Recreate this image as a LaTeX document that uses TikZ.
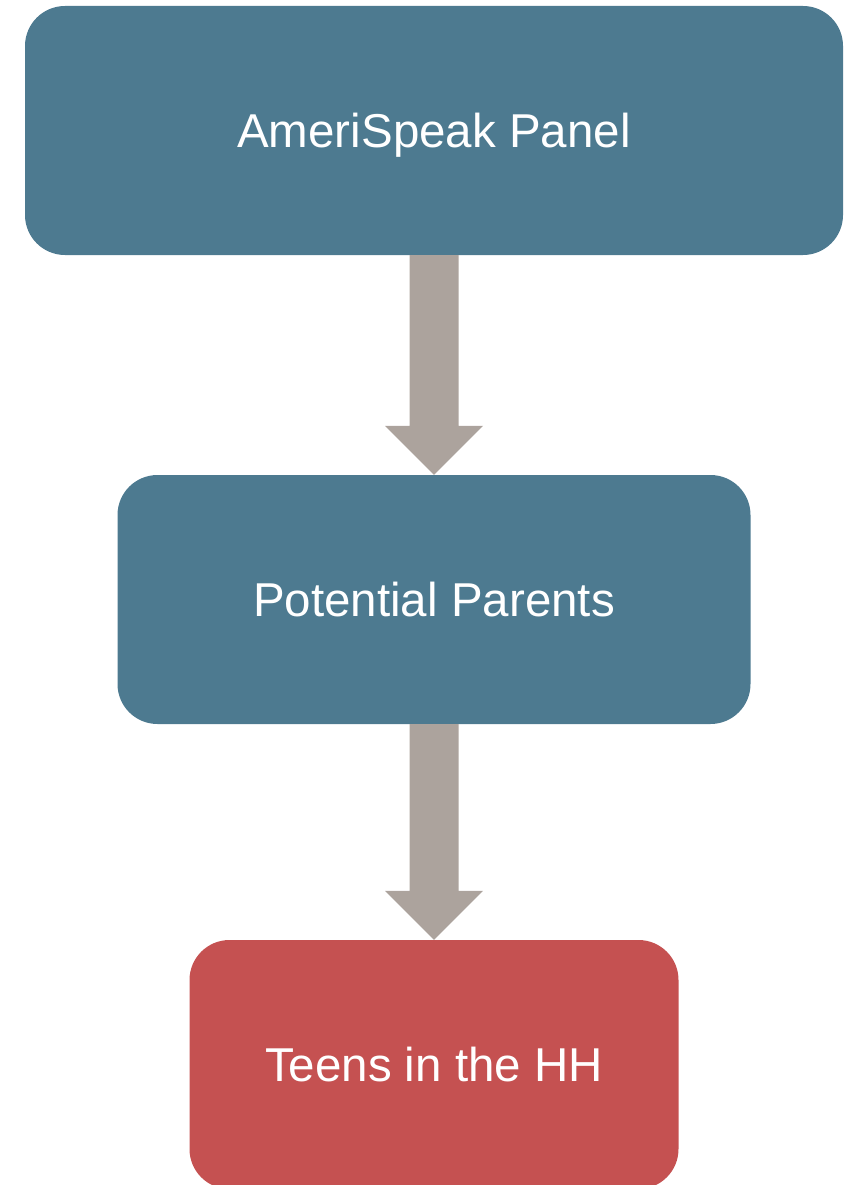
\documentclass[tikz,border=0pt]{standalone}
\usepackage{fontspec}
\setmainfont{Liberation Sans}
\usetikzlibrary{calc}
\definecolor{boxblue}{HTML}{4D7A90}
\definecolor{boxred}{HTML}{C55151}
\definecolor{arrowgrey}{HTML}{ACA39D}
\begin{document}
\begin{tikzpicture}[x=1pt,y=-1pt,
  flowbox/.style={rounded corners=40pt, inner sep=0pt, text=white,
    font=\fontsize{47.5}{56}\selectfont, text height=34pt, text depth=0pt, draw=none},
  blockarrow/.style={fill=arrowgrey, draw=none}]
\useasboundingbox (0,0) rectangle (844,1185);
\node[flowbox, fill=boxblue, minimum width=818pt, minimum height=249pt] (b1) at (434,130.5) {AmeriSpeak Panel};
\node[flowbox, fill=boxblue, minimum width=633pt, minimum height=249pt] (b2) at (434,599.5) {Potential Parents};
\node[flowbox, fill=boxred, minimum width=489pt, minimum height=249pt] (b3) at (434,1064.5) {Teens in the HH};
\foreach \a/\b in {b1/b2, b2/b3} {
  \fill[blockarrow]
    ($(\a.south)+(-24.5,0)$) -- ($(\b.north)+(-24.5,-49)$) -- ($(\b.north)+(-49,-49)$)
    -- (\b.north) -- ($(\b.north)+(49,-49)$) -- ($(\b.north)+(24.5,-49)$)
    -- ($(\a.south)+(24.5,0)$) -- cycle;
}
\end{tikzpicture}
\end{document}
